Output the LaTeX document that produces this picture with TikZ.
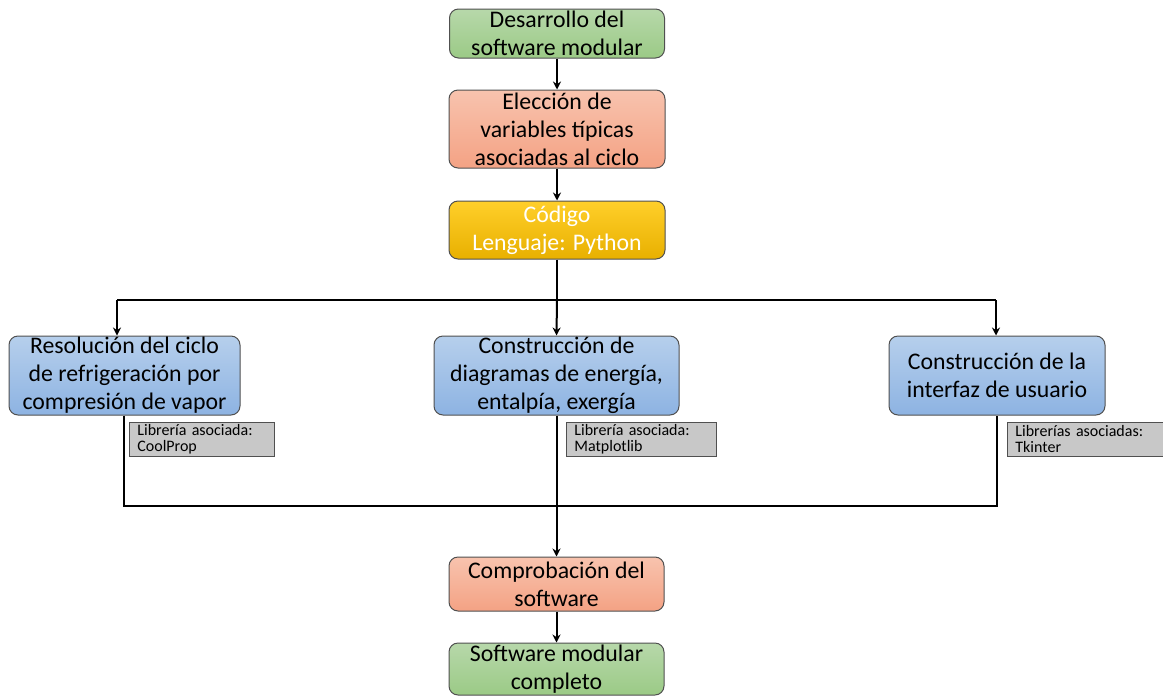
\documentclass[tikz,border=0pt]{standalone}
\usepackage{fontspec}
\setmainfont{Carlito}
\usetikzlibrary{arrows.meta}
\definecolor{gtop}{HTML}{B7D8AA}
\definecolor{gbot}{HTML}{9BCA86}
\definecolor{otop}{HTML}{F8C3AE}
\definecolor{obot}{HTML}{F4A284}
\definecolor{ytop}{HTML}{FFCF2A}
\definecolor{ybot}{HTML}{E8B000}
\definecolor{btop}{HTML}{B6CFEC}
\definecolor{bbot}{HTML}{8DB3E2}
\definecolor{edge}{HTML}{505050}
\definecolor{lab}{HTML}{C8C8C8}
\tikzset{
  box/.style={draw=edge, line width=1pt, rounded corners=9pt, align=center,
    font=\fontsize{23.8}{28}\selectfont, inner sep=0pt},
  greenbox/.style={box, top color=gtop, bottom color=gbot},
  orangebox/.style={box, top color=otop, bottom color=obot},
  goldbox/.style={box, top color=ytop, bottom color=ybot, text=white},
  bluebox/.style={box, top color=btop, bottom color=bbot},
  labbox/.style={draw=edge, line width=0.8pt, fill=lab, align=left, anchor=north west,
    font=\fontsize{16}{16}\selectfont, inner xsep=8pt, inner ysep=1pt, minimum height=34pt},
  conn/.style={line width=2pt, black},
  arr/.style={conn, -{Stealth[length=8pt,width=8pt]}}
}
\begin{document}
\begin{tikzpicture}[x=1pt,y=-1pt]
\useasboundingbox (0,0) rectangle (1163,697);
\clip (0,0) rectangle (1163,697);
\node[greenbox, minimum width=215pt, minimum height=49pt] (des) at (557,33.5) {Desarrollo del\\software modular};
\node[orangebox, minimum width=216pt, minimum height=78pt] (ele) at (557,129) {Elección de\\variables típicas\\asociadas al ciclo};
\node[goldbox, minimum width=216pt, minimum height=58pt] (cod) at (557,230) {Código\\Lenguaje: Python};
\node[bluebox, minimum width=231pt, minimum height=79pt] (res) at (124.5,375.5) {Resolución del ciclo\\de refrigeración por\\compresión de vapor};
\node[bluebox, minimum width=245pt, minimum height=79pt] (dia) at (556.5,375.5) {Construcción de\\diagramas de energía,\\entalpía, exergía};
\node[bluebox, minimum width=216pt, minimum height=79pt] (int) at (997,375.5) {Construcción de la\\interfaz de usuario};
\node[orangebox, minimum width=215pt, minimum height=54pt] (com) at (556.5,584) {Comprobación del\\software};
\node[greenbox, minimum width=215pt, minimum height=52pt] (fin) at (556.5,669) {Software modular\\completo};

\node[labbox, text width=129pt] (l1) at (129,422) {Librería asociada:\\CoolProp};
\node[labbox, text width=134pt] (l2) at (566,422) {Librería asociada:\\Matplotlib};
\node[labbox, text width=150pt] (l3) at (1007,422) {Librerías asociadas:\\Tkinter};

\coordinate (jt) at (557,300);
\coordinate (jl) at (117,300);
\coordinate (jr) at (996,300);
\coordinate (bl) at (124,506);
\coordinate (br) at (997,506);

\draw[arr] (des.south) -- (ele.north);
\draw[arr] (ele.south) -- (cod.north);
\draw[conn] (cod.south) -- (jt);
\draw[conn] (jl) -- (jr);
\draw[arr] (jl) -- (jl |- res.north);
\draw[arr] (jt) -- (dia.north);
\draw[arr] (jr) -- (jr |- int.north);
\draw[conn] (res.south -| bl) -- (bl) -- (br) -- (int.south -| br);
\draw[arr] (dia.south) -- (com.north);
\draw[arr] (com.south) -- (fin.north);
\end{tikzpicture}
\end{document}
